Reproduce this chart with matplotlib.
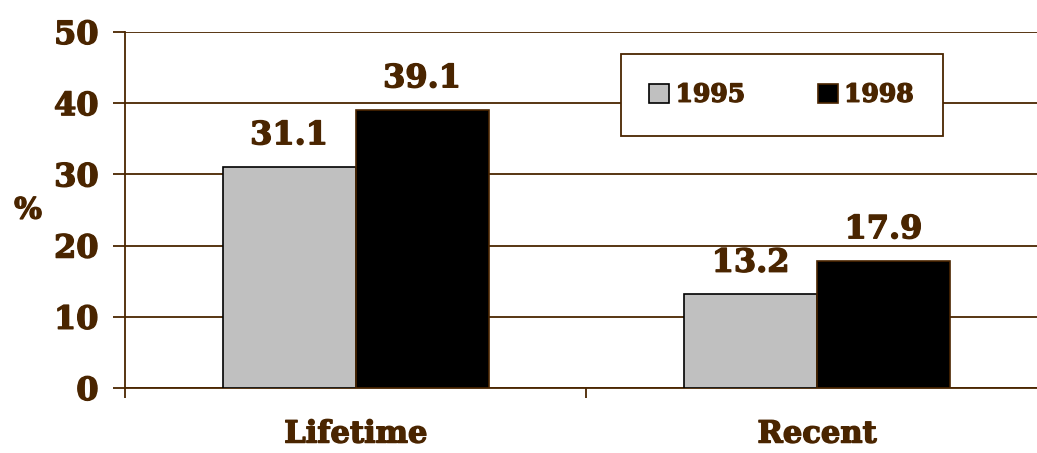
import matplotlib.pyplot as plt
import matplotlib.patheffects as pe
import numpy as np

categories = ['Lifetime', 'Recent']
years = ['1995', '1998']
vals_1995 = [31.1, 13.2]
vals_1998 = [39.1, 17.9]
yticks = [0, 10, 20, 30, 40, 50]

brown = '#4a2500'
plt.rcParams['font.family'] = 'DejaVu Serif'
plt.rcParams['font.weight'] = 'bold'
heavy = [pe.withStroke(linewidth=1.0, foreground=brown)]

fig = plt.figure(figsize=(10.37, 4.53), dpi=100)
ax = fig.add_axes([0.1205, 0.1435, 0.890, 0.786])

x = np.arange(len(categories))
w = 0.288
b1 = ax.bar(x - w/2, vals_1995, w, color='#c0c0c0', edgecolor='black', linewidth=1.2, label=years[0], zorder=3)
b2 = ax.bar(x + w/2, vals_1998, w, color='black', edgecolor=brown, linewidth=1.2, label=years[1], zorder=3)

for bars, vals in [(b1, vals_1995), (b2, vals_1998)]:
    for r, v in zip(bars, vals):
        ax.annotate(f'{v:.1f}', (r.get_x() + r.get_width()/2, v), xytext=(0, 11),
                    textcoords='offset points', ha='center', va='bottom',
                    fontsize=23, fontweight='bold', color=brown, path_effects=heavy)

ax.set_ylim(0, 50)
ax.set_xlim(-0.5, 1.5)
ax.set_yticks(yticks)
ax.set_yticklabels([str(t) for t in yticks], fontsize=23, fontweight='bold', color=brown)
for t in ax.get_yticklabels():
    t.set_path_effects(heavy)
ax.grid(axis='y', color=brown, linewidth=1.3, zorder=0)

ax.set_xticks([-0.5, 0.5, 1.5])
ax.set_xticklabels([])
ax.set_xticks(x, minor=True)
ax.set_xticklabels(categories, minor=True, fontsize=22, fontweight='bold', color=brown)
for t in ax.get_xticklabels(minor=True):
    t.set_path_effects(heavy)
ax.tick_params(axis='x', which='minor', length=0, pad=22)
ax.tick_params(axis='x', which='major', length=7, width=1.3, color=brown, direction='out')
ax.tick_params(axis='y', length=9, width=1.3, color=brown, direction='out', pad=10)

for s in ['top', 'right']:
    ax.spines[s].set_visible(False)
for s in ['left', 'bottom']:
    ax.spines[s].set_color(brown)
    ax.spines[s].set_linewidth(1.3)

ax.set_ylabel('%', rotation=0, fontsize=21, fontweight='bold', color=brown, va='center',
              path_effects=heavy)
ax.yaxis.set_label_coords(-0.105, 0.50)

leg = ax.legend(ncol=2, loc='upper left', bbox_to_anchor=(0.537, 0.938), frameon=True,
                fancybox=False, edgecolor=brown, framealpha=1, fontsize=18,
                handlelength=0.8, handleheight=0.8, handletextpad=0.25, columnspacing=2.9,
                borderpad=1.15, borderaxespad=0, labelcolor=brown)
leg.get_frame().set_linewidth(1.3)
for t in leg.get_texts():
    t.set_path_effects(heavy)
leg.set_zorder(5)

fig.savefig('out.png', dpi=100)
